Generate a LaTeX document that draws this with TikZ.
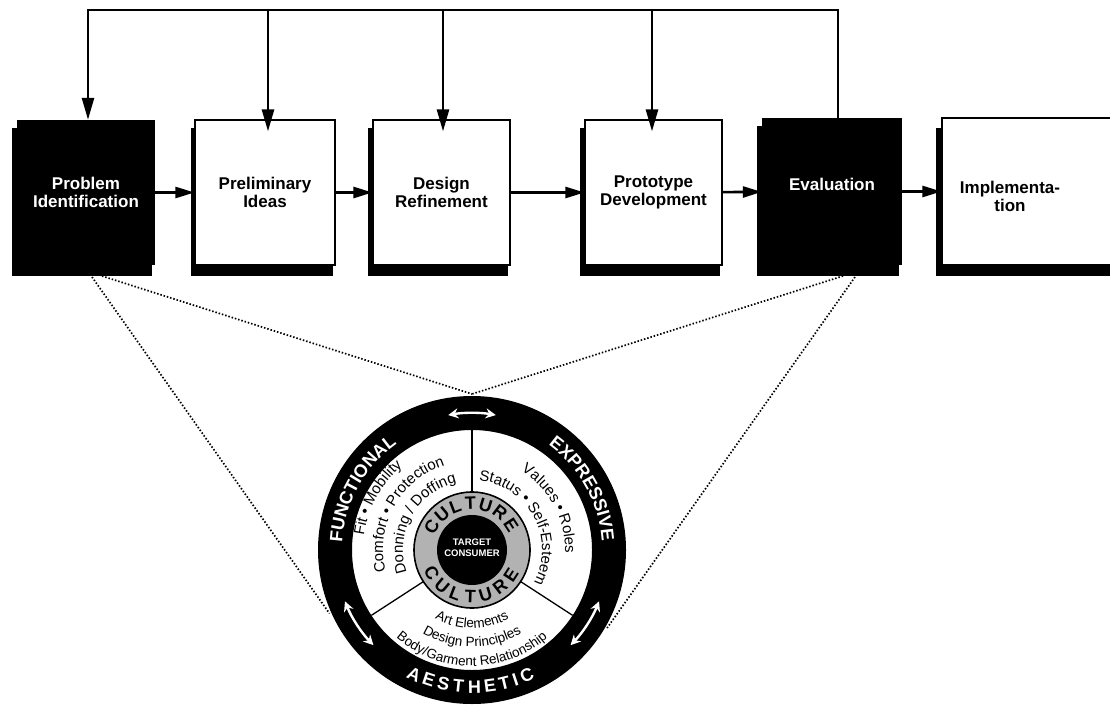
\documentclass[tikz,border=0pt]{standalone}
\usepackage{fontspec}
\setmainfont{Liberation Sans}
\setsansfont{Liberation Sans}
\usetikzlibrary{arrows.meta,decorations.text,calc}
\begin{document}
\begin{tikzpicture}[x=1pt,y=1pt,
  boxw/.style={draw=black,line width=1.2pt,fill=white,minimum height=145pt,inner sep=0pt,align=center,font=\fontsize{17}{18}\selectfont\bfseries},
  boxb/.style={fill=black,text=white,minimum height=145pt,inner sep=0pt,align=center,font=\fontsize{17}{18}\selectfont\bfseries},
  flow/.style={line width=2.6pt,-{Triangle[length=19pt,width=11pt]}},
  down/.style={line width=2.6pt,-{Triangle[length=22pt,width=12pt]}},
  dots/.style={line width=1.7pt,dash pattern=on 1.5pt off 1.9pt},
  ringletter/.style={text=white,font=\fontsize{18}{18}\selectfont\bfseries,inner sep=0pt},
  cultletter/.style={text=black,font=\fontsize{18}{18}\selectfont\bfseries,inner sep=0pt},
  ringarrow/.style={white,line width=2.4pt,{Stealth[length=10pt,width=10pt]}-{Stealth[length=10pt,width=10pt]}},
  divider/.style={line width=1.3pt},
]
\useasboundingbox (0,0) rectangle (1110,-711);

% ---------- process boxes ----------
\fill (12,-128) rectangle (152,-276);
\node[boxb,minimum width=138pt] (p1) at (86,-192.5) {Problem\\Identification};

\fill (191,-128) rectangle (333,-276);
\node[boxw,minimum width=140pt] (p2) at (265,-192.5) {Preliminary\\Ideas};

\fill (368,-128) rectangle (508,-276);
\node[boxw,minimum width=137pt] (p3) at (441.5,-192.5) {Design\\Refinement};

\fill (580,-128) rectangle (720,-276);
\node[boxw,minimum width=137pt] (p4) at (653.5,-192.5) {Prototype\\Development};

\fill (757,-126) rectangle (899,-276);
\node[boxb,minimum width=140pt,minimum height=147pt] (p5) at (832,-191.5) {Evaluation\\[-3pt]};

\fill (936,-128) rectangle (1115,-276);
\node[boxw,minimum width=173pt,minimum height=147pt] (p6) at (1028.5,-191.5) {};
\node[font=\fontsize{17}{18}\selectfont\bfseries,align=center] (t6) at (1010,-196) {Implementa-\\tion};

% ---------- flow arrows ----------
\draw[flow] (p1) -- (p2);
\draw[flow] (p2) -- (p3);
\draw[flow] (p3) -- (p4);
\draw[flow] (p4) -- (p5);
\draw[flow] (p5) -- (p6);

% ---------- feedback ----------
\coordinate (tl) at (88,-10);
\coordinate (tr) at (838,-10);
\coordinate (t2) at (268,-10);
\coordinate (t3) at (443,-10);
\coordinate (t4) at (652,-10);
\draw[down,line join=miter] (tr |- p5.north) -- (tr) -- (tl) -- (tl |- p1.north);
\draw[down,shorten >=-12pt] (t2) -- (t2 |- p2.north);
\draw[down,shorten >=-12pt] (t3) -- (t3 |- p3.north);
\draw[down,shorten >=-12pt] (t4) -- (t4 |- p4.north);

% ---------- circle ----------
\coordinate (C) at (472,-550);
\fill[black,even odd rule] (C) circle[radius=154] (C) circle[radius=120];
\draw[divider] ($(C)+(90:57)$) -- ($(C)+(90:120)$);
\draw[divider] ($(C)+(213:57)$) -- ($(C)+(213:120)$);
\draw[divider] ($(C)+(327:57)$) -- ($(C)+(327:120)$);
\fill[gray!60] (C) circle[radius=58];
\draw[line width=1.6pt] (C) circle[radius=58];
\fill[black] (C) circle[radius=35];
\node[text=white,font=\fontsize{9.5}{11}\selectfont\bfseries,align=center] (tc) at ($(C)+(0,2)$) {TARGET\\CONSUMER};

% CULTURE letters
\foreach \a/\l [count=\i] in {150/C,130/U,111/L,92/T,73/U,53/R,33/E}
  \node[cultletter,rotate=\a-90] (cut\i) at ($(C)+(\a:46.5)$) {\l};
\foreach \a/\l [count=\i] in {210/C,230/U,249/L,268/T,287/U,307/R,327/E}
  \node[cultletter,rotate=\a+90] (cub\i) at ($(C)+(\a:46.5)$) {\l};

% ring words
\path[decorate,decoration={text along path,text align=center,text color=white,
  text={|\fontsize{18}{18}\selectfont\bfseries|FUNCTIONAL}}]
  ($(C)+(196:130)$) arc[start angle=196,end angle=106,radius=130];
\path[decorate,decoration={text along path,text align=center,text color=white,
  text={|\fontsize{18}{18}\selectfont\bfseries|EXPRESSIVE}}]
  ($(C)+(74:130)$) arc[start angle=74,end angle=-16,radius=130];
\foreach \a/\l [count=\i] in {245/A,251.6/E,258/S,264.3/T,271/H,277.6/E,283.6/T,288.4/I,293.6/C}
  \node[ringletter,rotate=\a+90] (ae\i) at ($(C)+(\a:137)$) {\l};

% ring arrows
\draw[ringarrow] ($(C)+(100:137)$) arc[start angle=100,end angle=80,radius=137];
\draw[ringarrow] ($(C)+(202:137)$) arc[start angle=202,end angle=224,radius=137];
\draw[ringarrow] ($(C)+(316:137)$) arc[start angle=316,end angle=338,radius=137];

% sector texts
\path[decorate,decoration={text along path,text align=center,
  text={|\fontsize{15}{15}\selectfont|Fit • Mobility}}]
  ($(C)+(211:109)$) arc[start angle=211,end angle=91,radius=109];
\path[decorate,decoration={text along path,text align=center,
  text={|\fontsize{15}{15}\selectfont|Comfort • Protection}}]
  ($(C)+(211:89)$) arc[start angle=211,end angle=91,radius=89];
\path[decorate,decoration={text along path,text align=center,
  text={|\fontsize{15}{15}\selectfont|Donning / Doffing}}]
  ($(C)+(211:69)$) arc[start angle=211,end angle=91,radius=69];

\path[decorate,decoration={text along path,text align=center,
  text={|\fontsize{15}{15}\selectfont|Values • Roles}}]
  ($(C)+(88:93)$) arc[start angle=88,end angle=-32,radius=93];
\path[decorate,decoration={text along path,text align=center,
  text={|\fontsize{15}{15}\selectfont|Status • Self-Esteem}}]
  ($(C)+(88:70)$) arc[start angle=88,end angle=-32,radius=70];

\path[decorate,decoration={text along path,text align=center,
  text={|\fontsize{13.5}{13.5}\selectfont|Art Elements}}]
  ($(C)+(215:78)$) arc[start angle=215,end angle=325,radius=78];
\path[decorate,decoration={text along path,text align=center,
  text={|\fontsize{13.5}{13.5}\selectfont|Design Principles}}]
  ($(C)+(215:97)$) arc[start angle=215,end angle=325,radius=97];
\path[decorate,decoration={text along path,text align=center,
  text={|\fontsize{13.5}{13.5}\selectfont|Body/Garment Relationship}}]
  ($(C)+(215:116)$) arc[start angle=215,end angle=325,radius=116];

% ---------- dotted zoom lines ----------
\coordinate (pb1) at (92,-277);
\coordinate (pb2) at (102,-276);
\coordinate (eb1) at (843,-276);
\coordinate (eb2) at (855,-277);
\coordinate (ctop) at ($(C)+(90:156)$);
\coordinate (cl) at ($(C)+(204:156)$);
\coordinate (cr) at ($(C)+(330:156)$);
\draw[dots] (pb1) -- (cl);
\draw[dots] (pb2) -- (ctop);
\draw[dots] (eb1) -- (ctop);
\draw[dots] (eb2) -- (cr);
\end{tikzpicture}
\end{document}
